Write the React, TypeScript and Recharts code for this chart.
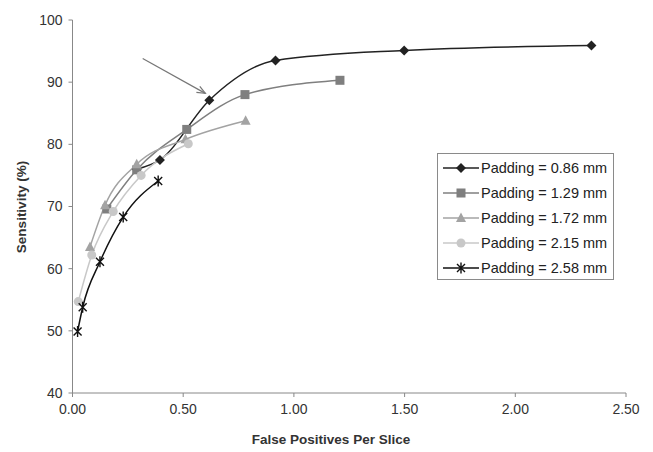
import { LineChart, Line, XAxis, YAxis, ReferenceLine, Label } from 'recharts';

const xTicks = [0, 0.5, 1, 1.5, 2, 2.5];
const yTicks = [40, 50, 60, 70, 80, 90, 100];

const pad086X = [0.29, 0.395, 0.618, 0.917, 1.498, 2.344];
const pad086Y = [76.0, 77.5, 87.1, 93.5, 95.1, 95.9];
const pad129X = [0.155, 0.29, 0.516, 0.779, 1.208];
const pad129Y = [69.6, 75.9, 82.4, 88.0, 90.3];
const pad172X = [0.079, 0.147, 0.29, 0.51, 0.782];
const pad172Y = [63.5, 70.2, 76.8, 80.8, 83.8];
const pad215X = [0.026, 0.087, 0.184, 0.31, 0.523];
const pad215Y = [54.7, 62.2, 69.2, 75.0, 80.1];
const pad258X = [0.023, 0.046, 0.124, 0.229, 0.387];
const pad258Y = [49.9, 53.8, 61.1, 68.3, 74.1];

const arrowFrom = { x: 0.317, y: 93.8 };
const arrowTo = { x: 0.6, y: 88.2 };

const toPoints = (xs: number[], ys: number[]) => xs.map((x, i) => ({ x, y: ys[i] }));

type MarkerKind = 'diamond' | 'square' | 'triangle' | 'circle' | 'star';

function marker(kind: MarkerKind, cx: number, cy: number, color: string, key?: string) {
  switch (kind) {
    case 'diamond':
      return <path key={key} d={`M${cx},${cy - 5}L${cx + 5},${cy}L${cx},${cy + 5}L${cx - 5},${cy}Z`} fill={color} />;
    case 'square':
      return <rect key={key} x={cx - 4.5} y={cy - 4.5} width={9} height={9} fill={color} />;
    case 'triangle':
      return <path key={key} d={`M${cx},${cy - 5.5}L${cx + 5},${cy + 4}L${cx - 5},${cy + 4}Z`} fill={color} />;
    case 'circle':
      return <circle key={key} cx={cx} cy={cy} r={4.5} fill={color} />;
    case 'star':
      return (
        <path
          key={key}
          d={`M${cx - 4},${cy - 4}L${cx + 4},${cy + 4}M${cx - 4},${cy + 4}L${cx + 4},${cy - 4}M${cx},${cy - 5.5}L${cx},${cy + 5.5}`}
          stroke={color}
          strokeWidth={1.4}
          fill="none"
        />
      );
  }
}

const series = [
  { name: 'Padding = 0.86 mm', data: toPoints(pad086X, pad086Y), color: '#222222', kind: 'diamond' as MarkerKind },
  { name: 'Padding = 1.29 mm', data: toPoints(pad129X, pad129Y), color: '#7f7f7f', kind: 'square' as MarkerKind },
  { name: 'Padding = 1.72 mm', data: toPoints(pad172X, pad172Y), color: '#a3a3a3', kind: 'triangle' as MarkerKind },
  { name: 'Padding = 2.15 mm', data: toPoints(pad215X, pad215Y), color: '#c8c8c8', kind: 'circle' as MarkerKind },
  { name: 'Padding = 2.58 mm', data: toPoints(pad258X, pad258Y), color: '#111111', kind: 'star' as MarkerKind },
];

const font = '"Liberation Sans", Arial, sans-serif';

function LegendBox() {
  return (
    <div
      style={{
        position: 'absolute',
        left: 437,
        top: 153,
        border: '1px solid #8a8a8a',
        background: '#fff',
        width: 177,
        height: 127,
        boxSizing: 'border-box',
        padding: '1px 0 0 5px',
        fontFamily: font,
        fontSize: 14.5,
        color: '#222',
      }}
    >
      {series.map((s) => (
        <div key={s.name} style={{ display: 'flex', alignItems: 'center', height: 25 }}>
          <svg width={36} height={14} style={{ marginRight: 2 }}>
            <line x1={0} y1={7} x2={36} y2={7} stroke={s.color} strokeWidth={1.5} />
            {marker(s.kind, 18, 7, s.color)}
          </svg>
          <span>{s.name}</span>
        </div>
      ))}
    </div>
  );
}

function Arrow(props: any) {
  const { x1, y1, x2, y2 } = props;
  const ang = Math.atan2(y2 - y1, x2 - x1);
  const len = 9;
  const a1 = ang + Math.PI - 0.4;
  const a2 = ang + Math.PI + 0.4;
  return (
    <g>
      <line x1={x1} y1={y1} x2={x2} y2={y2} stroke="#777" strokeWidth={1.2} />
      <path
        d={`M${x2 + len * Math.cos(a1)},${y2 + len * Math.sin(a1)}L${x2},${y2}L${x2 + len * Math.cos(a2)},${y2 + len * Math.sin(a2)}`}
        stroke="#777"
        strokeWidth={1.2}
        fill="none"
      />
    </g>
  );
}

export default function App() {
  return (
    <div style={{ position: 'absolute', left: 0, top: 0, width: 653, height: 452, background: '#fff' }}>
      <LineChart width={653} height={452} margin={{ top: 20, right: 27, left: 0, bottom: 0 }}>
        <XAxis
          type="number"
          dataKey="x"
          domain={[0, 2.5]}
          ticks={xTicks}
          tickFormatter={(v: number) => v.toFixed(2)}
          height={59}
          stroke="#888"
          tickSize={4}
          tickMargin={7}
          tick={{ fill: '#333', fontSize: 14, fontFamily: font }}
        >
          <Label
            content={() => (
              <text x={331} y={444} textAnchor="middle" fontFamily={font} fontSize={13.5} fontWeight="bold" fill="#333">
                False Positives Per Slice
              </text>
            )}
          />
        </XAxis>
        <YAxis
          type="number"
          domain={[40, 100]}
          ticks={yTicks}
          width={72.5}
          stroke="#888"
          tickSize={4}
          tickMargin={6}
          tick={{ fill: '#333', fontSize: 14, fontFamily: font }}
        >
          <Label
            content={() => (
              <text
                x={26}
                y={207}
                transform="rotate(-90 26 207)"
                textAnchor="middle"
                fontFamily={font}
                fontSize={13.5}
                fontWeight="bold"
                fill="#333"
              >
                Sensitivity (%)
              </text>
            )}
          />
        </YAxis>
        {series.map((s) => (
          <Line
            key={s.name}
            data={s.data}
            dataKey="y"
            name={s.name}
            type="monotone"
            stroke={s.color}
            strokeWidth={1.5}
            isAnimationActive={false}
            dot={(p: any) => marker(s.kind, p.cx, p.cy, s.color, `${s.name}-${p.index}`)}
            activeDot={false}
          />
        ))}
        <ReferenceLine segment={[arrowFrom, arrowTo]} shape={(p: any) => <Arrow {...p} />} />
      </LineChart>
      <LegendBox />
    </div>
  );
}
